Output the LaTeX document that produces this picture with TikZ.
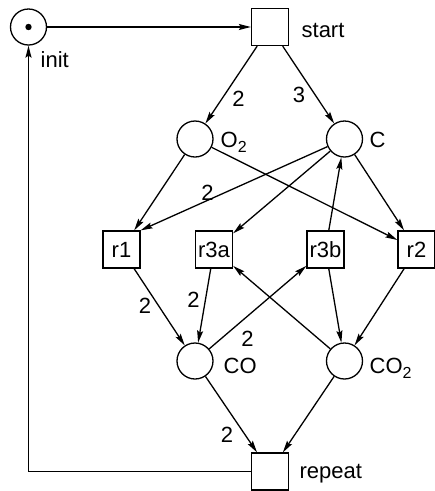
\documentclass[tikz,border=0pt]{standalone}
\usepackage{fontspec}
\setmainfont{Liberation Sans}
\usetikzlibrary{arrows.meta}
\newcommand{\sbs}[1]{\raisebox{-5pt}{\fontsize{16}{16}\selectfont #1}}
\begin{document}
\begin{tikzpicture}[x=1pt,y=-1pt, line width=1.3pt,
  every node/.style={font=\fontsize{22}{26}\selectfont},
  place/.style={circle,draw,minimum size=36pt,inner sep=0pt},
  trans/.style={rectangle,draw,minimum size=37pt,inner sep=0pt},
  lbl/.style={anchor=base west,inner sep=0pt},
  wt/.style={inner sep=0pt},
  arc/.style={-{Stealth[length=12pt,width=6pt,inset=2pt]}}]
\useasboundingbox (0,0) rectangle (435,491);
\fill[white] (0,0) rectangle (435,491);
% places
\node[place] (init) at (28.5,27) {};
\node[place] (O2) at (195,139) {};
\node[place] (C) at (344.5,139) {};
\node[place] (CO) at (195,361) {};
\node[place] (CO2) at (344.5,361) {};
\fill (init.center) circle (3.2pt);
% transitions
\node[trans] (start) at (270,27) {};
\node[trans] (r1) at (121.5,249.5) {r1};
\node[trans] (r3a) at (214,249.5) {r3a};
\node[trans] (r3b) at (325.5,249.5) {r3b};
\node[trans] (r2) at (416.5,249.5) {r2};
\node[trans] (repeat) at (270,471.5) {};
% labels
\node[lbl] (linit) at (40,67) {init};
\node[lbl] (lstart) at (301,37) {start};
\node[lbl] (lO2) at (220,147) {O\sbs{2}};
\node[lbl] (lC) at (369,147) {C};
\node[lbl] (lCO) at (223,373) {CO};
\node[lbl] (lCO2) at (369,373) {CO\sbs{2}};
\node[lbl] (lrepeat) at (299,478) {repeat};
% weights
\node[wt] (w1) at (238.5,98.5) {2};
\node[wt] (w2) at (299,94.5) {3};
\node[wt] (w3) at (207.5,192.5) {2};
\node[wt] (w4) at (145,306) {2};
\node[wt] (w5) at (193.5,300) {2};
\node[wt] (w6) at (247.5,339) {2};
\node[wt] (w7) at (227,434.5) {2};
% arcs
\draw[arc] (init) -- (start);
\draw[arc] (start) -- (O2);
\draw[arc] (start) -- (C);
\draw[arc] (O2) -- (r1);
\draw[arc] (O2) -- (r2);
\draw[arc] (C) -- (r1.north east);
\draw[arc] (C) -- (r3a);
\draw[arc] (C) -- (r2);
\draw[arc] (r3b) -- (C);
\draw[arc] (r1) -- (CO);
\draw[arc] (r3a) -- (CO);
\draw[arc] (CO) -- (r3b);
\draw[arc] (CO2) -- (r3a);
\draw[arc] (r3b) -- (CO2);
\draw[arc] (r2) -- (CO2);
\draw[arc] (CO) -- (repeat);
\draw[arc] (CO2) -- (repeat);
\draw[arc] (repeat.west) -| (init.south);
\end{tikzpicture}
\end{document}
